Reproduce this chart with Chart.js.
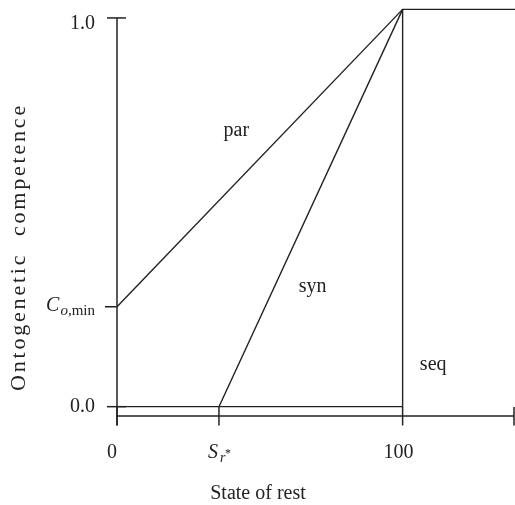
<!DOCTYPE html>
<html>
<head>
<meta charset="utf-8">
<script src="https://cdn.jsdelivr.net/npm/chart.js@4"></script>
<style>
  html, body { margin: 0; padding: 0; background: #fff; }
  #wrap { width: 515px; height: 505px; }
</style>
</head>
<body>
<div id="wrap"><canvas id="chart"></canvas></div>
<script>
// Curve data
const parX = [0, 100];
const parY = [0.257, 1.022];
const synX = [35.7, 100];
const synY = [0, 1.022];
const seqX = [0, 100, 100, 140];
const seqY = [0, 0, 1.022, 1.022];

// Axis ticks
const xTickValues = [0, 35.7, 100, 139];
const yTickValues = [0, 0.257, 1.0];

// Curve name labels [name, x, y]
const curveLabels = [
  ['par', 41.8, 0.696],
  ['syn', 68.5, 0.295],
  ['seq', 110.7, 0.094],
];

const INK = '#222';
const SERIF = '"Liberation Serif", "Times New Roman", serif';

function toPoints(xs, ys) {
  return xs.map((x, i) => ({ x: x, y: ys[i] }));
}

function lineSet(xs, ys) {
  return {
    data: toPoints(xs, ys),
    showLine: true,
    borderColor: INK,
    borderWidth: 1.4,
    pointRadius: 0,
    tension: 0,
    clip: false,
  };
}

// Draw the axes, ticks and all text by hand, placed through the scales
const axesPlugin = {
  id: 'axesPlugin',
  afterDraw(chart) {
    const ctx = chart.ctx;
    const xs = chart.scales.x;
    const ys = chart.scales.y;
    const axisY = chart.chartArea.bottom;
    const x0 = xs.getPixelForValue(0);
    ctx.save();
    ctx.strokeStyle = INK;
    ctx.fillStyle = INK;
    ctx.lineWidth = 1.5;

    // y axis line
    ctx.beginPath();
    ctx.moveTo(x0, ys.getPixelForValue(1.0));
    ctx.lineTo(x0, axisY + 9.5);
    ctx.stroke();

    // x axis line
    ctx.beginPath();
    ctx.moveTo(x0, axisY);
    ctx.lineTo(xs.getPixelForValue(xTickValues[3]), axisY);
    ctx.stroke();

    // x ticks
    xTickValues.forEach(v => {
      const px = xs.getPixelForValue(v);
      ctx.beginPath();
      ctx.moveTo(px, axisY - 9);
      ctx.lineTo(px, axisY + 9.5);
      ctx.stroke();
    });

    // y ticks
    yTickValues.forEach((v, i) => {
      const py = ys.getPixelForValue(v);
      ctx.beginPath();
      ctx.moveTo(x0 - (i === 1 ? 12 : 10), py);
      ctx.lineTo(i === 1 ? x0 : x0 + 9, py);
      ctx.stroke();
    });

    // y tick labels
    ctx.font = '20px ' + SERIF;
    ctx.textAlign = 'right';
    ctx.textBaseline = 'alphabetic';
    ctx.fillText('1.0', 95, ys.getPixelForValue(1.0) + 11);
    ctx.fillText('0.0', 95, ys.getPixelForValue(0) + 5);

    // C_{o,min}
    const cy = ys.getPixelForValue(yTickValues[1]) + 4;
    ctx.textAlign = 'left';
    ctx.font = '15px ' + SERIF;
    const wMin = ctx.measureText(',min').width;
    ctx.font = 'italic 15px ' + SERIF;
    const wO = ctx.measureText('o').width;
    ctx.font = 'italic 20px ' + SERIF;
    const wC = ctx.measureText('C').width;
    let cx = 95 - wMin - wO - wC - 1;
    ctx.fillText('C', cx, cy);
    cx += wC + 1;
    ctx.font = 'italic 15px ' + SERIF;
    ctx.fillText('o', cx, cy + 4);
    cx += wO;
    ctx.font = '15px ' + SERIF;
    ctx.fillText(',min', cx, cy + 4);

    // x tick labels
    const lblY = 458;
    ctx.font = '20px ' + SERIF;
    ctx.textAlign = 'center';
    ctx.fillText('0', x0 - 5, lblY);
    ctx.fillText('100', xs.getPixelForValue(100) - 4, lblY);

    // S_{r*}
    const sx = xs.getPixelForValue(xTickValues[1]);
    ctx.textAlign = 'left';
    ctx.font = 'italic 20px ' + SERIF;
    ctx.fillText('S', sx - 11, lblY);
    ctx.font = 'italic 14px ' + SERIF;
    ctx.fillText('r', sx + 1, lblY + 4);
    ctx.font = '12px ' + SERIF;
    ctx.fillText('*', sx + 6, lblY - 1);

    // axis titles
    ctx.font = '20px ' + SERIF;
    ctx.textAlign = 'center';
    ctx.fillText('State of rest', 258, 499);

    ctx.save();
    ctx.translate(25, 247);
    ctx.rotate(-Math.PI / 2);
    ctx.font = '22px ' + SERIF;
    ctx.letterSpacing = '2.8px';
    ctx.fillText('Ontogenetic  competence', 0, 0);
    ctx.restore();

    // curve names
    ctx.font = '20px ' + SERIF;
    ctx.textAlign = 'center';
    curveLabels.forEach(([name, x, y]) => {
      ctx.fillText(name, xs.getPixelForValue(x), ys.getPixelForValue(y));
    });

    ctx.restore();
  }
};

new Chart(document.getElementById('chart'), {
  type: 'scatter',
  data: {
    datasets: [
      lineSet(parX, parY),
      lineSet(synX, synY),
      lineSet(seqX, seqY),
    ],
  },
  options: {
    responsive: true,
    maintainAspectRatio: false,
    animation: false,
    layout: { padding: { left: 117, right: 1, top: 9, bottom: 89 } },
    plugins: {
      legend: { display: false },
      tooltip: { enabled: false },
    },
    scales: {
      x: { type: 'linear', min: 0, max: 139, display: false },
      y: { type: 'linear', min: -0.024, max: 1.023, display: false },
    },
  },
  plugins: [axesPlugin],
});
</script>
</body>
</html>
